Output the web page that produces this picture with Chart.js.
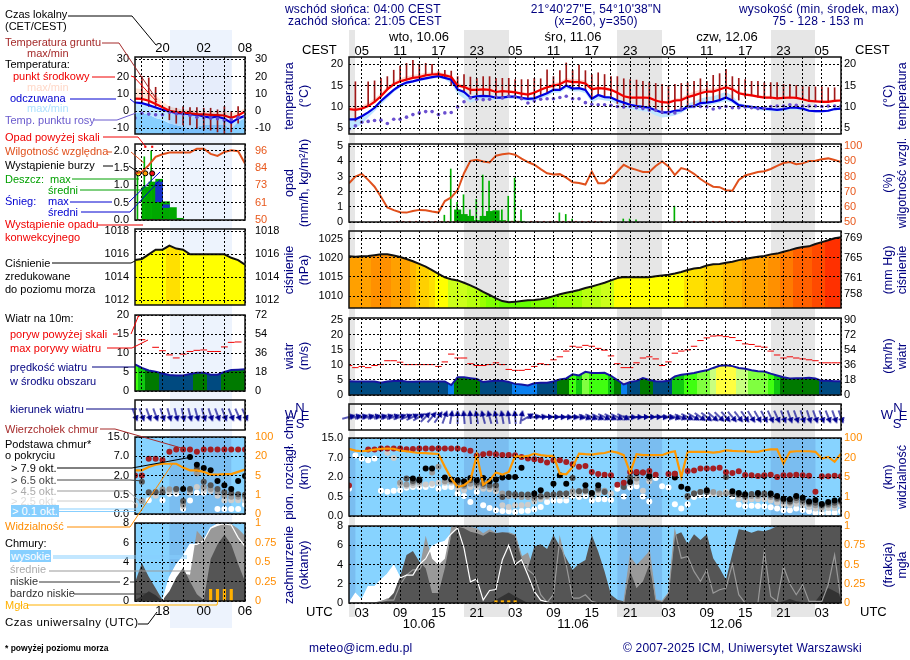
<!doctype html>
<html>
<head>
<meta charset="utf-8">
<title>Meteogram</title>
<script src="https://cdn.jsdelivr.net/npm/chart.js@4/dist/chart.umd.min.js"></script>
<style>
  html, body { margin: 0; background: #fff; }
  #page { position: relative; width: 910px; height: 660px; overflow: hidden; font-family: "Liberation Sans", Arial, sans-serif; }
  #page canvas { position: absolute; z-index: 2; }
  #page span { position: absolute; white-space: nowrap; z-index: 4; font-size: 11px; line-height: 12px; transform: translateY(-50%); }
  #page span.r { transform: translate(-50%, -50%) rotate(-90deg); font-size: 12.5px; color: #000080; }
  #page span.c { transform: translate(-50%, -50%); }
  #page svg { position: absolute; left: 0; top: 0; z-index: 3; }
  .band { position: absolute; z-index: 1; }
</style>
</head>
<body>
<div id="page"></div>
<script>
// ---- main meteogram, one value per hour, first hour 01 UTC 10.06
var nightStart = [-1, 18, 42, 66];
var nightEnd = [1, 25, 49, 73];
var utcLabels = ['03','09','15','21','03','09','15','21','03','09','15','21','03'];
var localLabels = ['05','11','17','23','05','11','17','23','05','11','17','23','05'];

var tempMid = [9.5,9.3,9.6,10.2,11.2,12.5,14.1,15.3,16,16.4,16.8,17,17.4,17.6,17.7,17.4,17,15,14.7,14,14,14.1,14,13.5,13.7,13.6,13.4,13.1,12.9,13.3,14,14.6,15,15.3,16.1,15.8,15.8,15.5,14.1,14.4,14.3,14,13.3,12.5,12.2,12.2,12.2,12.1,11.5,11.1,11,11.5,11.6,12.3,12.7,13.2,13.6,13.6,14.1,14.6,14.1,13.2,12.9,12.7,12.4,12.2,12.2,12,12.1,12.2,12.1,11.8,11.4,11.3,11.2,11.2,11.4,11.5];
var tempMax = [10,9.9,10.3,11,12,13.2,14.8,15.9,16.7,17.2,17.5,17.7,18,18.1,18.2,17.9,17.4,15.6,15.2,14.5,14.4,14.5,14.4,14,14.1,14,13.8,13.5,13.3,13.7,14.4,15.1,15.6,15.9,16.8,16.5,16.5,16.2,14.6,14.8,14.7,14.4,13.7,12.9,12.6,12.6,12.6,12.5,11.9,11.5,11.4,12,12.2,13,13.6,14,14.3,14.3,14.8,15.3,14.8,13.7,13.3,13.1,12.8,12.6,12.6,12.4,12.5,12.6,12.5,12.2,11.8,11.7,11.6,11.6,11.8,11.9];
var feltMid = [7.1,7.1,7.8,8.7,9.8,11.4,12.7,14,15,15.7,16,16.4,16.7,17,17.2,16.8,16.4,14.1,13.5,12.2,12.5,12.6,12.5,12.2,12.2,12.4,12.4,12.1,11.9,12,12.6,13.2,14,14,15,14.3,14.4,14,11.9,12.8,12.3,12.2,11.5,11,10.5,10.2,10,9.8,9.2,8.7,8.7,9.1,9.2,10,10.2,10.9,11,11.2,11.6,12.2,11.5,10.4,10.2,10,9.8,9.6,9.5,9.3,9.5,9.8,9.8,9.6,9.1,9,9,9.1,9.5,9.6];
var feltMax = [7.4,7.4,8.1,9,10.1,11.7,13,14.3,15.3,16,16.3,16.7,17,17.3,17.5,17.1,16.7,14.4,13.8,12.5,12.8,12.9,12.8,12.5,12.5,12.7,12.7,12.4,12.2,12.3,12.9,13.5,14.3,14.3,15.3,14.6,14.7,14.3,12.2,13.1,12.6,12.5,11.8,11.3,10.8,10.5,10.3,10.1,9.5,9,9,9.4,9.5,10.8,11.2,12,12.3,12.5,13,13.5,12.6,10.9,10.5,10.3,10.1,9.9,9.8,9.6,9.8,10.1,10.1,9.9,9.4,9.3,9.3,9.4,9.8,9.9];
var feltMin = [4.5,5,6,7.5,9,10.5,12,13.5,14.5,15.2,15.7,16,16.3,16.6,16.8,16.4,15.5,13,12,11,11.5,11.7,11.7,11.6,11.8,11.9,11.9,11.6,11.4,11.4,12,12.5,13.3,13.4,14.3,13.6,13.7,13.2,11,11.8,11.5,11.3,10.6,10,9.5,9.2,9,8.8,8,7.5,7.7,8,8.6,9.5,9.7,10.4,10.4,10.6,11,11.4,10.9,10,9.7,9.6,9.3,9.1,9,8.9,9,9.3,9.3,9.2,8.8,8.7,8.7,8.8,9.2,9.3];
var dewPoint = [4.8,5.6,6.4,6.6,6.8,6.9,6.1,7.1,7.1,7.6,8.2,8.6,8.9,8.9,8.2,8.6,8.7,10,11.2,12.1,11.8,11.7,11.8,12.3,12.1,12.5,12.3,11.9,10.9,11.4,11.8,11.9,11.9,12.2,12.5,11.9,11.9,11,10.6,10.5,10.5,10.4,10.1,10,10.1,9.8,9.6,9.3,9.2,8.8,8.5,8.6,9.5,10.1,10.1,10.1,10,9.5,9.8,10.1,9.8,9.8,10,9.8,9.6,9.6,10.1,10.2,10.2,10.5,10.4,10.2,10.2,10.2,10.1,10.2,10.2,10.2];
var groundMax = [null,15.9,null,15.9,16.1,16.7,17.1,18.6,19.6,20.2,20.9,20,20.2,20,18.3,18.6,18.4,17.1,17.6,17,16.7,17.1,17.1,16.7,16.7,16.7,16.4,16.4,16.4,16.7,16.6,18.7,17.1,18.5,20.3,18.6,19.8,18.5,17.6,18,17.6,17.1,17.1,16.6,16.4,16.3,16,15.8,15.5,15.3,15,15.3,15.5,15.7,16,16.6,16,17.4,17.8,18.8,17.1,16.7,16.4,16,16,15.7,15.7,15.7,15.3,15.3,15,14.9,14.7,14.7,14.7,14.5,14.5,14.7];
var groundMin = [null,6.7,null,10.2,11.2,12.3,14,15.1,16,16.4,16.8,17,17.4,17.6,17.6,17,15,14.5,13.5,13,12.8,12.6,12.5,12.4,12.4,12.4,12.3,12,12,12.2,12.6,13.1,14,14,15,14.4,14.4,14,12,12.7,12.3,12.1,10.8,10,9.8,9.9,9.7,9.5,9,8.4,8.5,8.9,9.4,10,10.2,11,11,11.2,11.6,12.2,11.5,11.6,12.3,12.6,12.3,12.1,12,11.9,12,12.1,12,11.7,11.3,11.2,11.1,11.1,11.3,11.4];

var humidity = [75.6,80,81.8,77.8,73.3,66.7,59.6,57.8,56.4,56.2,57.3,58,57.8,56.9,56.2,63.8,66.2,71.1,82.2,90.4,91.1,90,89.3,93.8,94.7,95.3,94.4,91.8,89.6,87.8,84.9,82.2,81.3,81.6,79.3,76.2,75.8,74.7,83.3,75.6,75.6,78.9,83.3,87.8,85.6,84.4,83,83,87,90,86.7,81,85.6,84.4,81.8,78.4,75.6,73.3,73,71,70.7,77.8,80.7,81.8,83,83.5,85,87,88.9,89.6,88.2,88.7,90.2,90.4,91.5,92,91,89.6];
var rainMaxHours = [15,16,17,18,19,20,21,22,23,24,25,26,27,33,34,35,43,44,45,51];
var rainMaxValues = [0.45,3.5,1.3,1.8,0.8,1.5,3.1,2.7,0.7,0.8,1.7,2.9,0.8,0.6,0.5,0.2,0.2,0.2,0.15,1.05];
var rainMeanHours = [16,17,18,19,20,21,22,23,24,25,26];
var rainMeanValues = [0.8,0.5,0.38,0.1,0.38,0.7,0.75,0.1,0.05,0.05,0.05];
var convectiveHours = [7.5,8.5,9.5,10.5,11.5,12.5,13.5,14.5,15.5,16.5,22.5,24.5,25.5,26.5,28.5,29.5,30.5,31.5,32.5,33.5,34.5,35.5,36.5,37.5,38.5,39.5,51,52,53,54,55,56,57,58,59,60,61,62];

var pressure = [1020.4,1020.3,1020.4,1020.5,1020.7,1020.9,1020.9,1020.6,1020.2,1019.7,1019.1,1018.4,1017.7,1016.8,1015.8,1014.9,1014.4,1014.1,1013.5,1012.8,1012,1011.1,1010.3,1009.4,1008.7,1008.4,1008.5,1008.7,1008.9,1009,1009.2,1009.5,1010,1010.5,1010.9,1011.2,1011.6,1012.1,1012.5,1013,1013.5,1014.1,1014.7,1015,1014.9,1014.9,1014.9,1014.9,1015.2,1015.4,1015.6,1015.9,1016.3,1016.8,1017.2,1017.4,1018,1018.3,1018.4,1018.7,1019,1019.4,1019.7,1020,1020.3,1020.5,1020.9,1021.1,1021.6,1022,1022.5,1022.8,1023,1023.6,1024.1,1024.6,1025.1,1025.4];

var windSpeed = [4.6,4.5,4.5,4.5,4.5,4.1,4.5,4.65,4.7,4.5,4.4,4.5,4.5,4.5,4.5,4.5,3.3,5.9,5.9,5.6,5.3,4.3,4.6,4.7,4.7,4.3,3.7,3.5,3.2,3.9,4.1,4.1,4.5,5.2,5.5,6.9,6.5,7.7,7.3,7.3,7.4,6.4,5,3.5,4.3,4.7,5.6,5,4.6,4.5,4.7,6.2,6.7,7,7.3,7.8,8.2,9,9.7,9.9,9.6,9,8.7,8.2,7.9,7.8,7.1,6.5,5.9,5.5,5.6,5.6,5.7,5.5,4.7,4.7,4.6,4.6];
var windGust = [9.8,9.1,9.5,9.1,9.8,10.1,11.4,11.4,10.9,10.1,10.1,10.1,10.1,10.1,9.5,11,13.6,12.3,12.3,10.4,9.8,9.8,10.1,10.7,10.1,8.5,8.2,8.2,8.5,9.5,10.4,10.1,11.7,12.7,14.6,16.2,15.9,16.5,16.2,15.5,14.9,13,10.4,9.1,9.1,10.7,12.3,12.7,12,9.8,11,13.9,14.6,15,16.2,18.1,19,19.6,19.7,19.4,19.1,18.1,17,16.8,16.2,15.9,14.6,13.3,12.3,12.7,12.3,12,11.7,11.4,10.7,10.7,10.7,10.7];
var windDir = [75,75,75,75,75,75,73,72,70,68,65,60,45,40,35,20,10,0,-5,-5,-10,-15,-15,-12,-10,-8,-5,10,60,80,85,88,90,92,94,95,100,110,112,114,115,115,115,115,95,92,90,90,90,95,100,108,112,116,120,125,128,130,134,138,140,142,145,148,150,152,155,155,158,160,160,162,162,160,160,158,160,160];

// cloud base panel: y is the position on the axis (0 .. 4), whose ticks are unevenly spaced
var baseLevels = [0,1,2,3,4];
var baseLabels = ['0.0','0.5','2.0','7.0','15.0'];
var visLabels = ['0','1','5','20','100'];
var cloudTop = [1.57,null,null,3.41,3.41,3.46,3.46,3.46,3.46,3.42,3.44,3.46,3.46,3.46,3.46,3.46,3.46,3.46,3.41,3.34,3.1,3.17,3.2,3.17,3.13,3.13,3.12,3.03,2.95,2.91,2.86,2.74,2.86,2.86,2.77,2.65,2.52,2.57,2.26,2.16,2.12,2.09,1.6,1.71,2.26,2.26,2.23,2.31,2.12,null,2.16,2.17,null,2.31,2.33,2.43,2.43,2.43,2.48,2.24,2.21,2.29,2.1,2.09,2.05,2.09,2.12,2,2.09,2.09,2.12,2.09,2.07,1.25,2.04,2.04,2.07,2.04];
var base79 = [null,null,null,null,null,null,null,null,null,null,1.92,1.83,2.43,2.43,null,1.97,1.87,1.83,1.78,1.95,1.83,1.95,1.78,1.87,1.97,2,2,2.47,null,1.15,1.32,null,1.66,2.09,1.66,null,null,1.58,1.18,1.58,null,null,null,null,1.75,2.2,null,2.04,null,null,null,1.97,1.5,1.4,null,null,1.32,null,null,null,1.27,1.18,1.11,null,1.18,2.05,1.15,1.03,0.89,0.86,1.03,0.94,0.75,0.82,0.62,0.72,0.8,0.82];
var base65 = [null,null,null,null,null,null,null,null,null,1.92,1.8,1.88,null,null,3.46,null,null,1.75,1.61,1.83,1.71,1.66,1.58,1.58,0.98,1.15,1.12,1.1,1.1,1.03,1.03,1.1,1.1,1.15,1.15,1.95,1.27,1.29,1.15,1.4,1.23,null,null,1.49,1.99,null,2.23,2.09,null,null,null,2.17,null,1.03,1.15,1.23,1.23,null,null,2,1.15,1.12,1.03,1.13,1.1,1.15,1.06,0.94,0.84,0.75,0.92,0.8,0.68,0.68,0.55,0.63,0.68,0.75];
var base45 = [null,null,null,null,null,null,null,null,1.71,1.61,1.71,1.75,null,2.23,2.52,1.78,1.78,1.58,1.53,1.66,1.61,1.54,1.49,1.4,1.15,1.03,1.03,0.98,0.98,0.89,0.98,1.03,1.1,1.1,1.15,1.27,1.27,1.32,1.15,1.32,1.29,null,null,null,1.92,1.92,null,1.92,null,null,null,2.09,null,0.98,1.15,1.23,1.23,1.23,1.15,1.15,1.15,1.06,0.98,1.03,1.03,1.06,0.98,0.86,0.75,0.68,0.8,0.68,0.6,0.55,0.46,0.55,0.55,0.68];
var base25 = [null,null,null,null,null,null,3.24,2.98,1.58,1.54,1.58,1.61,1.61,1.66,1.71,1.71,1.71,1.4,1.32,1.49,1.49,1.4,1.37,1.27,0.55,0.46,0.55,0.55,0.58,0.75,0.86,0.98,1.03,1.03,1.03,1.15,1.12,1.23,1.03,1.15,1.23,1.15,null,null,1.66,1.75,1.3,1.78,null,null,null,null,null,null,1.15,1.23,1.32,1.15,1.15,1.23,1.15,0.89,0.8,0.86,0.86,0.86,0.8,0.68,0.58,0.55,0.63,0.55,0.46,0.38,0.34,0.41,0.41,0.55];
var base01 = [1.4,3.1,2.95,2.86,2.95,1.3,1.25,1.3,1.32,1.45,1.49,1.49,1.49,1.58,1.4,1.49,1.49,1.15,1.03,0.72,1.23,0.55,0.41,0.29,0.26,0.24,0.2,0.26,0.27,0.34,0.46,0.72,0.8,0.8,0.8,1.03,0.98,1.03,0.79,0.86,0.86,0.82,1.4,1,1.46,1.52,1,0.75,1.95,1.52,1.46,0.6,0.38,0.6,0.98,1.06,1.06,1.15,1.1,1.15,1,0.58,0.5,0.53,0.51,0.5,0.45,0.38,0.29,0.29,0.38,0.31,0.24,0.17,0.14,0.17,0.17,0.24];
var visibility = [3.45,3.35,3.32,3.35,3.4,3.45,3.46,3.45,3.35,3.32,3.27,3.23,3.22,3.2,3.18,2.52,1.92,1.49,1.58,1.83,3.12,1.61,1.83,2.23,2.12,2.26,3.08,3.03,3.08,3.2,3.12,3.08,3.08,2.17,2.14,2.52,3.2,3.17,3.15,3.2,3.23,3.32,3.25,3.12,2.23,3.17,3.12,3.12,3.12,3.12,3.25,3.32,2,3.29,3.29,3.29,3.29,3.25,3.29,3.37,3.34,3.32,3.32,3.29,3.29,3.37,3.42,3.42,2.69,3.29,3.32,3.32,3.32,3.29,2.95,3.03,2.78,3.2];

var cloudHigh = [0,1,0.3,1.7,1.7,2.4,3,3.9,2.6,2.9,2.9,4,4.6,5.9,6.2,6.4,7.2,7.8,5.7,2.2,2.5,0.3,1.3,1.4,4.5,6,4,4.5,2.9,1.2,0.3,0.1,0,null,null,null,null,null,null,null,null,null,null,null,null,null,null,null,null,null,null,null,null,null,null,null,null,null,null,null,null,null,null,null,null,null,null,null,null,null,null,null,null,null,null,null,null,null];
var cloudMidArea = [0,0,0,0,0,0.17,0.5,0.34,1.9,2.9,3.45,3.45,7,4.6,3.97,4.6,7.93,8,8,7.93,7.76,7.24,7.66,7.31,7.31,7.31,5.66,4.83,5.24,3.28,0.5,0,0.86,6.7,3.97,0.5,0.5,0.86,0.17,0,0,0,0,0,4.83,3.97,4.66,5.41,0.34,0.17,1.03,7.52,0,0,0,0,0,0,0,0,0,0,0,0,0,0,0,0,0,0,0,0,0,0,0,0,0,0];
var cloudMidLine = [0,0,0,0,0,0.17,0.3,0.3,1.9,2.9,3.45,3.45,4.66,null,null,null,null,null,null,null,null,null,null,null,null,7.3,7.07,4.83,3.45,2.9,0.86,0.07,0.86,6.7,3.97,0.5,0.5,0.86,0.17,0,0,0,0,0,4.83,1.72,2.76,5.41,0.34,0.17,1.03,7.48,4.66,4.83,3.28,2.24,3.45,1.03,1.38,1.55,4.03,0.86,0,0,0,5.41,0.69,0.17,3.79,1.97,0.86,1.9,0.17,0.17,0.17,1.9,5,0.34];
var cloudLow = [0,0,0,0,0,0.17,0.34,1.03,2.76,5,5.41,4.31,3.62,1.03,1.03,3.62,7.07,7.93,7.76,7.41,7.24,7,7.41,7.24,7.34,7.31,7.07,4.83,3.62,5.86,6.1,5.62,7.07,5.86,4.66,3.45,4.07,4.48,7.07,5.34,3.28,0.86,0.34,0.17,3.28,1.55,2.24,3.97,0.34,0.17,1.03,7.07,7.34,6.1,7.14,6.55,7.14,4.66,3.62,2.41,5.17,7.66,7.52,7.31,7.52,7.45,7.66,8,8,8,8,8,8,8,8,8,8,8];
var cloudVeryLow = [0,0,0,0,0,0,0,0,0,0,0,0,0,0,0,0,0,0,0,0,0,0,0,0.34,0.69,1.1,0.69,0.34,0,0,0,0,0,0,0,0,0,0,0,0,0,0,0,0,0,0,0,0,0,0,0,0,0,0,0,0,0,0,0,0,0,0,0,0,0,0,0,0,0.17,0.41,0.17,0.1,0,0.17,1.03,1.55,1.21,0.86];
var fogHours = [23,24,25,26];
var fogValues = [0.03,0.03,0.03,0.03];

// ---- small explanatory meteogram on the left, first hour 14 UTC
var miniNightStart = [5];
var miniNightEnd = [14];
var miniUtcLabels = ['18','00','06'];
var miniLocalLabels = ['20','02','08'];

var miniTempMid = [7.3,7.1,6,4.2,2.3,0.2,-0.6,-0.8,-1.2,-1.7,-1.9,-2.1,-2.3,-2.5,-3.8,-2.5,-0.2];
var miniTempMax = [13.3,12.7,11.3,9.4,5.6,2.7,1.7,1,0.8,0.4,-0.2,-0.2,-0.2,-0.2,-1.2,-0.2,1.7];
var miniFeltMid = [5,4.6,3.5,2.1,0.8,0,-1.2,-1.3,-1.7,-2.1,-3.1,-3.7,-3.1,-4.4,-6.7,-4.2,-2.7];
var miniFeltMin = [-1,-1,-2,-4,-5,-7,-8,-9,-10,-9,-8,-8,-8,-8,-10,-6,-4];
var miniDew = [-4,-1.2,-1.7,-2.1,-2.1,-0.6,-1.5,-1.7,-2.5,-3.5,-3.8,-4,-4.4,-5.4,-5,-3.5,-3];
var miniGroundHours = [1,2,3,5,6,7,8,9,10,11,12,13,14,15];
var miniGroundMax = [20,19.2,13.8,2.7,1.7,2.7,2.1,2.1,1.7,1.7,0.8,2.7,-0.2,2.7];
var miniGroundMin = [4.6,2.7,2.7,-5,-7,-8,-8,-10,-11,-11,-12,-13,-12,-7];

var miniHumidity = [81,82,86.5,92,93.8,95,95,95,95,97.5,97.5,94,92.7,95.3,96.4,95.8,87.6];
var miniRainMean = [0.96,1.1,1.18,0.53,0.36,0.05];
var miniRainMaxHours = [0.5,1.5,2.5];
var miniRainMax = [1.35,1.83,2];
var miniSnowHours = [3.5,4.5];
var miniSnowFrom = [0.53,0.36];
var miniSnowTo = [1.1,0.44];
var miniOverScale = [1.5,2.5];
var miniStormHours = [0.5,1.5,2.5];
var miniStormLevel = [1.35,1.35,1.35];
var miniConvective = [0.5,1.5,2.5,3.5,4.5];

var miniPressure = [1015.5,1015.6,1016,1016.4,1016.4,1016.75,1016.5,1016.4,1016,1016,1016,1016,1016,1016,1015.7,1015.5,1015.1];
var miniWind = [7,6.1,5.4,5.1,4.6,4.2,4.1,4.1,4.5,4.8,4.8,4.3,4.3,5,5.5,5.6,5.7];
var miniGustHours = [1,3,4,5,6,7,8,9,10,11,12,13,14,15];
var miniGust = [13.5,11.5,10.6,9.5,8.7,9.7,10.4,10.7,10.8,10.4,10.4,11.6,12.8,12.9];
var miniDir = [158,160,160,160,162,164,166,168,166,165,164,162,160,160,158,156,156];

var miniCloudTop = [2,2,2.87,2.87,2.8,3.24,3.35,3.35,3.35,3.24,3.35,3.35,3.35,3.35,3.35,3.35,3.35];
var miniBase79 = [null,null,null,null,null,null,null,1.3,2.96,2.56,2.39,2.27,1.71,1.5,1.3,1.71,1.97];
var miniBase65 = [null,1.67,1.13,1.13,1.13,null,1.3,0.68,1.3,2.35,1.67,1.5,1.3,1.13,1.08,1.03,1];
var miniBase45 = [null,0.68,1.11,1.16,1.28,1.28,1.28,0.5,1.22,2.1,1.4,1.3,1.13,0.95,0.9,0.9,0.9];
var miniBase25 = [0.45,0.68,null,0.95,1.16,1.16,1.2,0.4,1.1,1.4,1.25,1.2,0.95,0.7,0.72,0.72,0.72];
var miniBase01 = [null,null,0.72,null,0.72,1.05,1.05,0.27,0.7,1.1,1.1,null,0.26,0.26,0.26,0.26,0.5];
var miniVis = [2.27,2.27,2.44,2.56,2.61,2.61,2.61,2.41,2.27,2.27,2.19,2.05,2.05,2.07,2.07,2.19,2.31];

var miniHigh = [0,0,0,0,0,2.4,3.7,4.6,5.8,5.8,6.2,7.5,7.9,7.9,7.8,6.5,5.6];
var miniMid = [0,0,0,0,0,0,1,2.8,2.7,7.2,6.4,7.4,7.7,7.9,7.9,7.4,6.7];
var miniLow = [1.9,3.9,2.5,1.3,0.1,1,2.4,3.4,2,0.7,0.1,4.3,5.8,6.8,5.8,3.8,2];
var miniVeryLow = [0.1,0.5,1,0.6,0,0,0,0,0,0,0,0,0,0,0,0,0];
var miniFogHours = [11,12,13,14];
var miniFog = [0.15,0.15,0.15,0.15];

// ---- fill colours by value
var pressureSteps = [[1009,'#66ff00'],[1010.5,'#7fff00'],[1012,'#99ff00'],[1013.5,'#b8ff10'],[1014.6,'#ccff1a'],[1016.5,'#ffff00'],[1017.5,'#ffe000'],[1018.5,'#ffd000'],[1019.7,'#ffb800'],[1020.7,'#ffa000'],[1021.5,'#ff9000'],[1022.5,'#ff7a00'],[1023.5,'#ff6000'],[1024.5,'#ff4a00'],[9999,'#ff3000']];
var windSteps = [[4,'#0a80f0'],[4.75,'#004a80'],[6,'#007a00'],[6.8,'#10c810'],[7.6,'#40ff10'],[8.5,'#80ff40'],[9.5,'#c8ff80'],[99,'#ffff40']];

var NAVY = '#000080', BLUE_BG = '#87d3ff', BLUE_NIGHT = '#7abdf0';
var PAD = 8;
var page = document.getElementById('page');

function stepColor(steps, v) {
    for (var i = 0; i < steps.length; i++) if (v < steps[i][0]) return steps[i][1];
    return steps[steps.length - 1][1];
}
function pts(vals, off) {
    return vals.map(function (v, i) { return { x: i + (off || 0), y: v }; });
}
function pairs(xs, ys) {
    return xs.map(function (x, i) { return { x: x, y: ys[i] }; });
}
function flat(xs, level) {
    return xs.map(function (x) { return { x: x, y: level }; });
}
// area coloured hour by hour with hard colour stops
function hourFill(vals, steps) {
    return function (ctx) {
        var chart = ctx.chart, area = chart.chartArea;
        if (!area) return 'transparent';
        var g = chart.ctx.createLinearGradient(area.left, 0, area.right, 0);
        var sx = chart.scales.x, span = sx.max - sx.min;
        vals.forEach(function (v, i) {
            var a = Math.max(0, (i - 0.5 - sx.min) / span), b = Math.min(1, (i + 0.5 - sx.min) / span);
            var c = stepColor(steps, v);
            g.addColorStop(a, c);
            g.addColorStop(b, c);
        });
        return g;
    };
}
function lineSet(data, color, width, extra) {
    return Object.assign({ type: 'line', data: data, borderColor: color, borderWidth: width, pointRadius: 0, tension: 0, fill: false }, extra || {});
}
function dotSet(data, color, r, extra) {
    return Object.assign({ type: 'line', showLine: false, data: data, pointRadius: r, pointBackgroundColor: color, pointBorderWidth: 0, pointBorderColor: color }, extra || {});
}
function barSet(data, color, w, extra) {
    return Object.assign({ type: 'bar', data: data, backgroundColor: color, barThickness: w }, extra || {});
}
function areaSet(data, color) {
    return lineSet(data, 'transparent', 0, { fill: 'start', backgroundColor: color });
}
function gustSet(data, r) {
    return dotSet(data, '#f00000', r, { pointStyle: 'line', pointBorderColor: '#f00000', pointBorderWidth: 1 });
}
function arrowImage() {
    var c = document.createElement('canvas');
    c.width = 20; c.height = 20;
    var g = c.getContext('2d');
    g.strokeStyle = g.fillStyle = '#000090';
    g.lineWidth = 1.3;
    g.beginPath(); g.moveTo(10, 17); g.lineTo(10, 5); g.stroke();
    g.beginPath(); g.moveTo(10, 3); g.lineTo(13.2, 9); g.lineTo(6.8, 9); g.closePath(); g.fill();
    return c;
}
var arrow = arrowImage();
function dirSet(dirs) {
    return dotSet(dirs.map(function (d, i) { return { x: i, y: 0.5 }; }), NAVY, 10, { pointStyle: arrow, pointRotation: dirs, clip: false });
}

// background, night bands and frame of each panel
var panelDecor = {
    id: 'panelDecor',
    beforeDatasetsDraw: function (chart, args, o) {
        var a = chart.chartArea, c = chart.ctx, sx = chart.scales.x;
        if (!o.bg) return;
        c.save();
        c.fillStyle = o.bg;
        c.fillRect(a.left, a.top, a.width, a.height);
        c.fillStyle = o.night;
        o.from.forEach(function (h, i) {
            var x0 = Math.max(a.left, sx.getPixelForValue(h)), x1 = sx.getPixelForValue(o.to[i]);
            c.fillRect(x0, a.top, x1 - x0, a.height);
        });
        c.restore();
    },
    afterDatasetsDraw: function (chart, args, o) {
        if (!o.tint) return;
        var a = chart.chartArea, c = chart.ctx, sx = chart.scales.x;
        c.save();
        c.globalCompositeOperation = 'multiply';
        c.fillStyle = o.tint;
        o.from.forEach(function (h, i) {
            var x0 = sx.getPixelForValue(h), x1 = sx.getPixelForValue(o.to[i]);
            c.fillRect(x0, a.top, x1 - x0, a.height);
        });
        c.restore();
    },
    afterDraw: function (chart) {
        var a = chart.chartArea, c = chart.ctx;
        c.save();
        c.strokeStyle = '#111';
        c.lineWidth = 1.5;
        c.strokeRect(a.left, a.top, a.width, a.height);
        c.restore();
    }
};

function axisTicks(vals) {
    return function (axis) { axis.ticks = vals.map(function (v) { return { value: v }; }); };
}
function labelOf(vals, labels) {
    return function (v) {
        var i = vals.indexOf(v);
        return i < 0 ? '' : (labels ? labels[i] : String(v));
    };
}
// the axes get fixed sizes and no label overhang, so the plot area lands exactly on the panel box
function fixSize(prop, size) {
    return function (s) {
        s[prop] = size;
        s.paddingTop = s.paddingBottom = s.paddingLeft = s.paddingRight = 0;
    };
}
function makePanel(p) {
    var topH = p.topLabels ? p.topH : 0, botH = p.botLabels ? p.botH : 0;
    var lw = p.lw, rw = p.rw;
    var c = document.createElement('canvas');
    c.width = p.w + lw + rw;
    c.height = p.h + topH + botH + 2 * PAD;
    c.style.left = (p.x - lw) + 'px';
    c.style.top = (p.y - topH - PAD) + 'px';
    page.appendChild(c);
    var font = { family: '"Liberation Sans", Arial, sans-serif', size: p.fontSize || 11 };
    var scales = {
        x: {
            type: 'linear', min: p.xMin, max: p.xMax, position: 'bottom', offset: false,
            afterBuildTicks: axisTicks(p.xGrid),
            afterFit: fixSize('height', botH),
            border: { display: false, dash: [2, 2] },
            grid: { color: '#000', lineWidth: 1, drawTicks: false, z: 1, offset: false },
            ticks: { display: !!p.botLabels, autoSkip: false, maxRotation: 0, padding: 3, color: '#000', font: { family: font.family, size: 13 }, callback: labelOf(p.labelHours, p.botLabels) }
        },
        y: {
            position: 'left', min: p.yMin, max: p.yMax,
            afterBuildTicks: axisTicks(p.yTicks),
            afterFit: fixSize('width', lw),
            border: { display: false, dash: [2, 2] },
            grid: { color: '#000', lineWidth: 1, drawTicks: false, z: 1 },
            ticks: { display: !!p.yTicks.length, autoSkip: false, padding: p.padL, color: '#000', font: font, callback: labelOf(p.yTicks, p.yLabels) }
        },
        y2: {
            position: 'right', min: p.y2Min, max: p.y2Max,
            afterBuildTicks: axisTicks(p.y2Ticks),
            afterFit: fixSize('width', rw),
            border: { display: false },
            grid: { display: false, drawTicks: false },
            ticks: { display: !!p.y2Ticks.length, autoSkip: false, padding: p.padR, color: p.y2Color || '#000', font: font, callback: labelOf(p.y2Ticks, p.y2Labels) }
        }
    };
    if (p.topLabels) {
        scales.xTop = {
            type: 'linear', min: p.xMin, max: p.xMax, position: 'top',
            afterBuildTicks: axisTicks(p.labelHours),
            afterFit: fixSize('height', topH),
            border: { display: false },
            grid: { display: false, drawTicks: false },
            ticks: { autoSkip: false, maxRotation: 0, padding: p.topPad, color: '#000', font: { family: font.family, size: 13 }, callback: labelOf(p.labelHours, p.topLabels) }
        };
    }
    return new Chart(c, {
        type: 'line',
        data: { datasets: p.datasets },
        options: {
            responsive: false,
            animation: false,
            layout: { padding: { top: PAD, bottom: PAD, left: 0, right: 0 } },
            plugins: { legend: { display: false }, tooltip: { enabled: false }, panelDecor: { bg: p.bg, night: p.night, tint: p.tint, from: p.from, to: p.to } },
            elements: { bar: { borderWidth: 0 } },
            scales: scales
        },
        plugins: [panelDecor]
    });
}

// ---- shared settings of both columns
var mainGrid = [];
for (var g3 = 2; g3 <= 77; g3 += 3) mainGrid.push(g3);
var mainLabelHours = [];
for (var g6 = 2; g6 <= 77; g6 += 6) mainLabelHours.push(g6);
var mainCol = { x: 349, w: 492, xMin: 0, xMax: 77, xGrid: mainGrid, labelHours: mainLabelHours, lw: 36, rw: 30, padL: 6, padR: 3, from: nightStart, to: nightEnd };
var miniCol = { x: 135.3, w: 110, xMin: 0, xMax: 16, xGrid: [1,4,7,10,13,16], labelHours: [4,10,16], lw: 32, rw: 42, padL: 6, padR: 10, from: miniNightStart, to: miniNightEnd };
function panel(col, p) { return makePanel(Object.assign({}, col, p)); }

var tempChart = panel(mainCol, {
    y: 57.3, h: 77.7, yMin: 3.65, yMax: 21.7, yTicks: [5,10,15,20], y2Min: 3.65, y2Max: 21.7, y2Ticks: [5,10,15,20],
    topLabels: localLabels, topH: 14, topPad: -2,
    datasets: [
        dotSet(pts(dewPoint), '#6a4fd0', 1.8),
        lineSet(pts(tempMid), '#f00000', 2.2),
        lineSet(pts(feltMid), '#0000e0', 2.2),
        barSet(groundMax.map(function (v, i) { return { x: i, y: v === null ? null : [groundMin[i], v] }; }), '#a01818', 1),
        lineSet(pts(tempMax), 'transparent', 0, { fill: { target: 1 }, backgroundColor: '#ffd9d0' }),
        lineSet(pts(feltMax), 'transparent', 0, { fill: '+1', backgroundColor: '#bfe6ff' }),
        lineSet(pts(feltMin), 'transparent', 0)
    ]
});

panel(mainCol, {
    y: 144, h: 78, yMin: 0, yMax: 5.15, yTicks: [0,1,2,3,4,5], y2Min: 50, y2Max: 101.5, y2Ticks: [50,60,70,80,90,100], y2Color: '#e8581c',
    datasets: [
        lineSet(pts(humidity), '#e0501c', 2, { yAxisID: 'y2' }),
        dotSet(flat(convectiveHours, 0), '#e01010', 1.5, { pointStyle: 'rect' }),
        barSet(pairs(rainMaxHours, rainMaxValues), '#00b000', 1),
        barSet(pairs(rainMeanHours.map(function (h) { return h + 0.5; }), rainMeanValues), '#00a800', 6.5)
    ]
});

panel(mainCol, {
    y: 230.7, h: 77.6, yMin: 1006.9, yMax: 1027, yTicks: [1010,1015,1020,1025], y2Min: 755.2, y2Max: 770.3, y2Ticks: [758,761,765,769],
    datasets: [
        lineSet(pts(pressure), '#111', 2, { fill: 'start', backgroundColor: hourFill(pressure, pressureSteps) })
    ]
});

panel(mainCol, {
    y: 317.7, h: 77.3, yMin: 0, yMax: 25.6, yTicks: [0,5,10,15,20,25], y2Min: 0, y2Max: 92.2, y2Ticks: [0,18,36,54,72,90],
    datasets: [
        gustSet(pts(windGust), 3.2),
        lineSet(pts(windSpeed), '#1414a0', 2, { fill: 'start', backgroundColor: hourFill(windSpeed, windSteps) })
    ]
});

panel(mainCol, {
    y: 401.5, h: 30.5, yMin: 0, yMax: 1, yTicks: [], y2Min: 0, y2Max: 1, y2Ticks: [],
    datasets: [dirSet(windDir)]
});

panel(mainCol, {
    y: 437.7, h: 78.3, yMin: 0, yMax: 4, yTicks: baseLevels, yLabels: baseLabels, y2Min: 0, y2Max: 4, y2Ticks: baseLevels, y2Labels: visLabels, y2Color: '#ff8c00',
    bg: BLUE_BG, night: BLUE_NIGHT,
    datasets: [
        lineSet(pts(visibility), '#ff9800', 2.2),
        dotSet(pts(cloudTop), '#a51e22', 3),
        dotSet(pts(base79), '#000', 3),
        dotSet(pts(base65), '#555', 3),
        dotSet(pts(base45), '#999', 3),
        dotSet(pts(base25), '#ccc', 3),
        dotSet(pts(base01), '#fff', 3)
    ]
});

panel(mainCol, {
    y: 526, h: 77.3, yMin: 0, yMax: 8, yTicks: [0,2,4,6,8], y2Min: 0, y2Max: 1, y2Ticks: [0,0.25,0.5,0.75,1], y2Color: '#ff8c00',
    bg: BLUE_BG, night: BLUE_NIGHT,
    botLabels: utcLabels, botH: 16,
    datasets: [
        barSet(pairs(fogHours, fogValues), '#ffb000', 2.5, { yAxisID: 'y2' }),
        lineSet(pts(cloudHigh), '#fff', 1.2),
        lineSet(pts(cloudMidLine), '#999', 1.2),
        areaSet(pts(cloudVeryLow), '#333'),
        areaSet(pts(cloudLow), '#555'),
        areaSet(pts(cloudMidArea), '#999'),
        areaSet(pts(cloudHigh), '#fff')
    ]
});

// ---- left column
panel(miniCol, {
    y: 57.3, h: 77, yMin: -13.2, yMax: 31.3, yTicks: [-10,0,10,20,30], y2Min: -13.2, y2Max: 31.3, y2Ticks: [-10,0,10,20,30],
    topLabels: miniLocalLabels, topH: 18, topPad: 1, tint: '#e6edfb',
    datasets: [
        dotSet(pts(miniDew), '#6a4fd0', 1.8),
        lineSet(pts(miniTempMid), '#f00000', 2.2),
        lineSet(pts(miniFeltMid), '#0000e0', 2.2),
        barSet(pairs(miniGroundHours, miniGroundMax.map(function (v, i) { return [miniGroundMin[i], v]; })), '#a01818', 1),
        lineSet(pts(miniTempMax), 'transparent', 0, { fill: { target: 1 }, backgroundColor: '#ffe6d8' }),
        lineSet(pts(miniFeltMid), 'transparent', 0, { fill: '+1', backgroundColor: '#bfe6ff' }),
        lineSet(pts(miniFeltMin), 'transparent', 0, { fill: 'start', backgroundColor: '#87cfff' })
    ]
});

panel(miniCol, {
    y: 144, h: 76, yMin: 0, yMax: 2.2, yTicks: [0,0.5,1,1.5,2], yLabels: ['0.0','0.5','1.0','1.5','2.0'], y2Min: 50, y2Max: 100.6, y2Ticks: [50,61.5,73,84.5,96], y2Labels: ['50','61','73','84','96'], y2Color: '#e8581c',
    datasets: [
        lineSet(pts(miniHumidity), '#e0501c', 2, { yAxisID: 'y2' }),
        dotSet(flat(miniOverScale, 2.12), '#f00000', 1.5, { pointStyle: 'rect' }),
        dotSet(pairs(miniStormHours, miniStormLevel), ['#ffe000','#ffa000','#f01010'], 2.5, { pointBorderWidth: 1, pointBorderColor: '#000' }),
        dotSet(flat(miniConvective, 0), '#e01010', 1.2, { pointStyle: 'rect' }),
        barSet(pairs(miniRainMaxHours, miniRainMax), '#00b000', 1),
        barSet(pairs(miniSnowHours, miniSnowFrom.map(function (v, i) { return [v, miniSnowTo[i]]; })), '#1a30c8', 7),
        barSet(pts(miniRainMean, 0.5), '#00a800', 7)
    ]
});

panel(miniCol, {
    y: 229.3, h: 76.7, yMin: 1011.6, yMax: 1018.2, yTicks: [1012,1014,1016,1018], y2Min: 1011.6, y2Max: 1018.2, y2Ticks: [1012,1014,1016,1018],
    datasets: [
        lineSet(pts(miniPressure), '#111', 2, { fill: 'start', backgroundColor: hourFill(miniPressure, pressureSteps) })
    ]
});

panel(miniCol, {
    y: 315, h: 76.7, yMin: 0, yMax: 20, yTicks: [0,5,10,15,20], y2Min: 0, y2Max: 72, y2Ticks: [0,18,36,54,72],
    datasets: [
        dotSet(flat([0.5], 19.7), '#f00000', 1.3, { pointStyle: 'rect' }),
        gustSet(pairs(miniGustHours, miniGust), 3.4),
        lineSet(pts(miniWind), '#1414a0', 2, { fill: 'start', backgroundColor: hourFill(miniWind, windSteps) })
    ]
});

panel(miniCol, {
    y: 398.3, h: 34, yMin: 0, yMax: 1, yTicks: [], y2Min: 0, y2Max: 1, y2Ticks: [],
    datasets: [dirSet(miniDir)]
});

panel(miniCol, {
    y: 436.7, h: 77.6, yMin: 0, yMax: 4, yTicks: baseLevels, yLabels: baseLabels, y2Min: 0, y2Max: 4, y2Ticks: baseLevels, y2Labels: visLabels, y2Color: '#ff8c00',
    bg: BLUE_BG, night: BLUE_NIGHT,
    datasets: [
        lineSet(pts(miniVis), '#ff9800', 2.2),
        dotSet(pts(miniCloudTop), '#a51e22', 3),
        dotSet(pts(miniBase79), '#000', 3),
        dotSet(pts(miniBase65), '#555', 3),
        dotSet(pts(miniBase45), '#999', 3),
        dotSet(pts(miniBase25), '#ccc', 3),
        dotSet(pts(miniBase01), '#fff', 3)
    ]
});

panel(miniCol, {
    y: 523.3, h: 78, yMin: 0, yMax: 8, yTicks: [0,2,4,6,8], y2Min: 0, y2Max: 1, y2Ticks: [0,0.25,0.5,0.75,1], y2Color: '#ff8c00',
    bg: BLUE_BG, night: BLUE_NIGHT,
    botLabels: miniUtcLabels, botH: 16,
    datasets: [
        barSet(pairs(miniFogHours, miniFog), '#ffb000', 2.5, { yAxisID: 'y2' }),
        lineSet(pts(miniHigh), '#fff', 1.2),
        areaSet(pts(miniVeryLow), '#333'),
        areaSet(pts(miniLow), '#555'),
        areaSet(pts(miniMid), '#999'),
        areaSet(pts(miniHigh), '#fff')
    ]
});

// ---- night stripes behind the panels
function stripes(from, to, left, scale, top, bottom, color) {
    from.forEach(function (h, i) {
        var d = document.createElement('div');
        d.className = 'band';
        var x0 = Math.max(left, scale(h)), x1 = scale(to[i]);
        d.style.cssText = 'left:' + x0 + 'px;width:' + (x1 - x0) + 'px;top:' + top + 'px;height:' + (bottom - top) + 'px;background:' + color;
        page.appendChild(d);
    });
}
stripes(nightStart, nightEnd, 349, function (h) { return 349 + h * 492 / 77; }, 30, 617, '#e6e6e6');
stripes(miniNightStart, miniNightEnd, 135, function (h) { return 135.3 + h * 110 / 16; }, 30, 628, '#edf3fd');

// ---- texts
function T(text, x, y, color, css) {
    var s = document.createElement('span');
    s.textContent = text;
    s.style.left = x + 'px';
    s.style.top = y + 'px';
    s.style.color = color || '#000';
    if (css) s.style.cssText += css;
    page.appendChild(s);
    return s;
}
function C(text, x, y, color, css) {
    var s = T(text, x, y, color, css);
    s.className = 'c';
    return s;
}
function R(text, x, y) {
    var s = T(text, x, y, NAVY);
    s.className = 'r';
}
var DARKRED = '#a52a2a', RED = '#f00000', GREEN = '#00a000', BLUE = '#0000d0', ORANGE = '#ff8c00';
var HEAD = 'font-size:12px;letter-spacing:.2px;', BIG = 'font-size:13px;';
[
    ['Czas lokalny', 5, 14, '#000'], ['(CET/CEST)', 5, 26, '#000'],
    ['Temperatura gruntu', 5, 42, DARKRED], ['max/min', 27, 52.5, DARKRED],
    ['Temperatura:', 5, 64, '#000'], ['punkt środkowy', 13, 76, RED], ['max/min', 27, 87, '#ffd8c8'],
    ['odczuwana', 10, 98, BLUE], ['max/min', 27, 108, '#aee2ff'], ['Temp. punktu rosy', 5, 120, '#6a5acd'],
    ['Opad powyżej skali', 5, 137, RED], ['Wilgotność względna', 5, 151, '#e0501c'], ['Wystąpienie burzy', 5, 165, '#000'],
    ['Deszcz:', 5, 179, GREEN], ['max', 50, 179, GREEN], ['średni', 48, 190, GREEN],
    ['Śnieg:', 5, 201, BLUE], ['max', 48, 201, BLUE], ['średni', 48, 212, BLUE],
    ['Wystąpienie opadu', 5, 224, RED], ['konwekcyjnego', 5, 237, RED],
    ['Ciśnienie', 5, 263, '#000'], ['zredukowane', 5, 276, '#000'], ['do poziomu morza', 5, 289, '#000'],
    ['Wiatr na 10m:', 5, 318, '#000'], ['poryw powyżej skali', 10, 334, RED], ['max porywy wiatru', 10, 348, RED],
    ['prędkość wiatru', 10, 367, NAVY], ['w środku obszaru', 10, 381, NAVY], ['kierunek wiatru', 10, 409, NAVY],
    ['Wierzchołek chmur', 5, 429, DARKRED], ['Podstawa chmur*', 5, 444, '#000'], ['o pokryciu', 5, 455, '#000'],
    ['> 7.9 okt.', 11, 468, '#000'], ['> 6.5 okt.', 11, 480, '#444'], ['> 4.5 okt.', 11, 491, '#aaa'], ['> 2.5 okt.', 11, 501, '#ddd'],
    ['Widzialność', 5, 526, ORANGE], ['Chmury:', 5, 543, '#000'],
    ['średnie', 10, 569, '#aaa'], ['niskie', 10, 581, '#333'], ['bardzo niskie', 10, 593, '#333'], ['Mgła', 5, 605, '#ffb000']
].forEach(function (t) { T(t[0], t[1], t[2], t[3]); });
[
    ['wschód słońca: 04:00 CEST', 285, 9, NAVY], ['zachód słońca: 21:05 CEST', 288, 21, NAVY],
    ['wysokość (min, środek, max)', 739, 9, NAVY],
    ['meteo@icm.edu.pl', 309, 648, NAVY], ['© 2007-2025 ICM, Uniwersytet Warszawski', 623, 648, NAVY]
].forEach(function (t) { T(t[0], t[1], t[2], t[3], HEAD); });
T('CEST', 302, 50, '#000', BIG); T('CEST', 855, 50, '#000', BIG); T('UTC', 306, 612, '#000', BIG); T('UTC', 860, 612, '#000', BIG);
T('> 0.1 okt.', 11, 511, '#fff', 'background:#87cfff;padding:0 1px;');
T('wysokie', 10, 556, '#fff', 'background:#87cfff;padding:0 1px;');
T('Czas uniwersalny (UTC)', 5, 622, '#000', 'letter-spacing:.4px;font-size:11.5px;');
T('* powyżej poziomu morza', 5, 648, '#000', 'font-size:8.5px;font-weight:bold;');
C('21°40\'27"E, 54°10\'38"N', 596, 9, NAVY, HEAD);
C('(x=260,  y=350)', 596, 21, NAVY, HEAD);
C('75 - 128 - 153 m', 818, 21, NAVY, HEAD);
C('wto, 10.06', 419, 37, '#000', BIG); C('śro, 11.06', 573, 37, '#000', BIG); C('czw, 12.06', 727, 37, '#000', BIG);
C('10.06', 419, 624, '#000', BIG); C('11.06', 573, 624, '#000', BIG); C('12.06', 726, 624, '#000', BIG);

[
    ['temperatura', 289, 96], ['(°C)', 304, 96], ['(°C)', 888, 96], ['temperatura', 902, 96],
    ['opad', 289, 183], ['(mm/h, kg/m²/h)', 304, 183], ['(%)', 888, 183], ['wilgotność wzgl.', 902, 183],
    ['ciśnienie', 289, 270], ['(hPa)', 304, 270], ['(mm Hg)', 888, 270], ['ciśnienie', 902, 270],
    ['wiatr', 289, 356], ['(m/s)', 304, 356], ['(km/h)', 888, 356], ['wiatr', 902, 356],
    ['pion. rozciągł. chm.', 289, 466], ['(km)', 304, 477], ['(km)', 888, 477], ['widzialność', 902, 477],
    ['zachmurzenie', 289, 565], ['(oktanty)', 304, 565], ['(frakcja)', 888, 565], ['mgła', 902, 565]
].forEach(function (t) { R(t[0], t[1], t[2]); });

[
    ['W', 291, 415], ['N', 300, 408], ['E', 305, 416], ['S', 300, 424],
    ['W', 887, 415], ['N', 898, 408], ['E', 903, 416], ['S', 897, 424]
].forEach(function (t) { C(t[0], t[1], t[2], NAVY, 'font-size:13px;'); });

// ---- leader lines from the explanations to the small panels
var leaders = [
    ['#000', '68,16 132,16 156,45'], [DARKRED, '102,43 119,43 157,100'], [RED, '92,77 115,77'], [RED, '131,76 134,77 157,102'],
    [BLUE, '70,99 116,99'], [BLUE, '130,99 135,103'], ['#6a5acd', '94,120 117,120 136,113'],
    [RED, '103,137 138,137 146,147'], ['#e0501c', '107,152 112,152'], ['#e0501c', '131,152 144,163'],
    ['#000', '103,166 113,166'], ['#000', '129,166 138,172'], [GREEN, '72,179 139,179'], [GREEN, '80,190 147,190'],
    [BLUE, '70,202 112,202'], [BLUE, '129,202 160,172'], [BLUE, '81,212 130,212 160,180'], [RED, '97,225 143,225'],
    ['#000', '52,263 131,263 135,261'], [RED, '113,334 118,334'], [RED, '131,334 138,317'], [RED, '107,348 132,348 148,340'],
    [NAVY, '92,367 135,367'], [NAVY, '86,409 137,409'], [DARKRED, '100,429 115,429 185,449'],
    ['#000', '57,468 132,468 192,457'], ['#444', '57,480 130,480 143,481'], ['#999', '57,491 128,491 144,505'], ['#ccc', '57,501 132,501 137,505'],
    ['#87cfff', '55,509 136,509'], ['#87cfff', '55,511.5 136,511.5'], [ORANGE, '67,527 130,527 173,463'],
    ['#87cfff', '53,556 187,556'], ['#87cfff', '53,558 187,558'], ['#999', '49,571 192,571'], ['#333', '39,582 120,582'], ['#333', '130,582 136,582'],
    ['#333', '74,594 150,594'], ['#ffb000', '27,605 217,605 218,600'], ['#000', '138,624 148,624 157,612']
];
var svg = document.createElementNS('http://www.w3.org/2000/svg', 'svg');
svg.setAttribute('width', 910);
svg.setAttribute('height', 660);
leaders.forEach(function (l) {
    var pl = document.createElementNS('http://www.w3.org/2000/svg', 'polyline');
    pl.setAttribute('points', l[1]);
    pl.setAttribute('fill', 'none');
    pl.setAttribute('stroke', l[0]);
    pl.setAttribute('stroke-width', 1);
    svg.appendChild(pl);
});
page.appendChild(svg);
</script>
</body>
</html>
